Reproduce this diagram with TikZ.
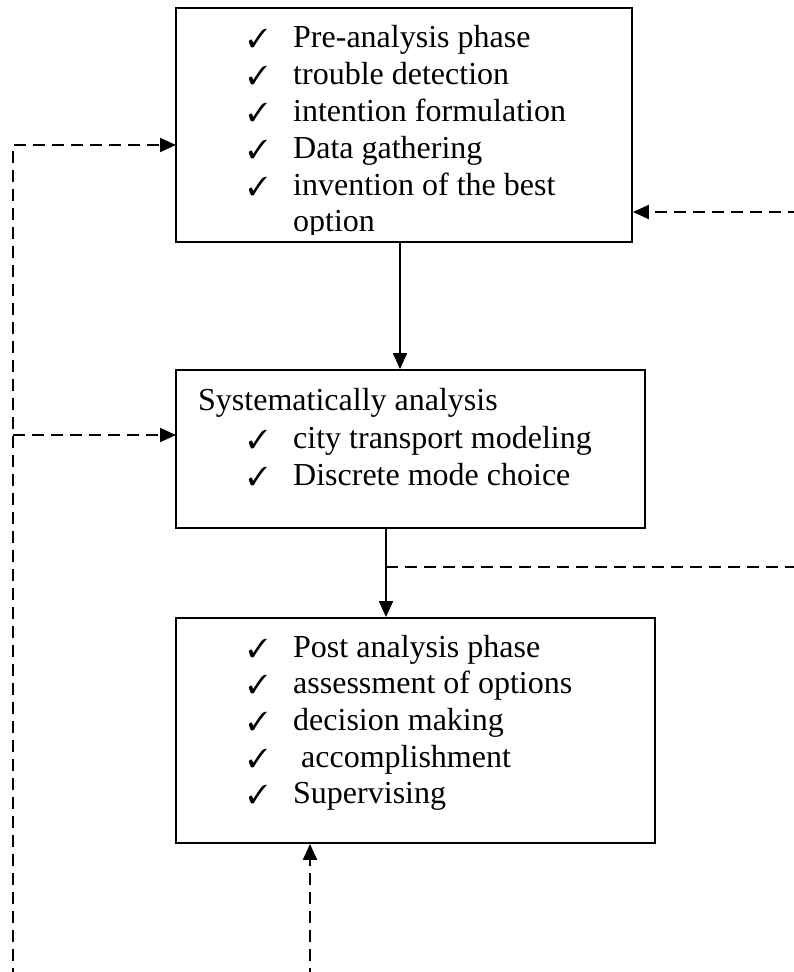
\documentclass[tikz,border=0pt]{standalone}
\usepackage{fontspec}
\setmainfont{Liberation Serif}
\usepackage{pifont}
\usetikzlibrary{arrows.meta}
\tikzset{
  box/.style={draw, line width=1.8pt, rectangle, inner sep=0pt},
  txt/.style={anchor=base west, inner sep=0pt, font=\fontsize{32}{37}\selectfont},
  chk/.style={anchor=base west, inner sep=0pt, font=\fontsize{26}{30}\selectfont},
  solidarrow/.style={line width=1.9pt, -{Triangle[length=16pt,width=14pt]}},
  dasharrow/.style={line width=2pt, dash pattern=on 12pt off 7pt, -{Triangle[length=16pt,width=14pt]}},
  dashline/.style={line width=2pt, dash pattern=on 12pt off 7pt}
}
\begin{document}
\begin{tikzpicture}[x=1pt,y=-1pt]
\useasboundingbox (0,0) rectangle (794,972);
% boxes
\node[box, minimum width=456pt, minimum height=234pt] (b1) at (404,125) {};
\node[box, minimum width=469pt, minimum height=158pt] (b2) at (410.5,449) {};
\node[box, minimum width=479pt, minimum height=225pt] (b3) at (415.5,730.5) {};
% box 1 text
\begin{scope}
\clip (176,8) rectangle (632,234);
\node[chk] (c11) at (248,47) {\ding{51}};
\node[txt] (t11) at (293,47) {Pre-analysis phase};
\node[chk] (c12) at (248,84) {\ding{51}};
\node[txt] (t12) at (293,84) {trouble detection};
\node[chk] (c13) at (248,121) {\ding{51}};
\node[txt] (t13) at (293,121) {intention formulation};
\node[chk] (c14) at (248,158) {\ding{51}};
\node[txt] (t14) at (293,158) {Data gathering};
\node[chk] (c15) at (248,195) {\ding{51}};
\node[txt] (t15) at (293,195) {invention of the best};
\node[txt] (t16) at (293,231) {option};
\end{scope}
% box 2 text
\node[txt] (t20) at (198,410) {Systematically analysis};
\node[chk] (c21) at (248,448) {\ding{51}};
\node[txt] (t21) at (293,448) {city transport modeling};
\node[chk] (c22) at (248,485) {\ding{51}};
\node[txt] (t22) at (293,485) {Discrete mode choice};
% box 3 text
\node[chk] (c31) at (248,657) {\ding{51}};
\node[txt] (t31) at (293,657) {Post analysis phase};
\node[chk] (c32) at (248,693) {\ding{51}};
\node[txt] (t32) at (293,693) {assessment of options};
\node[chk] (c33) at (248,730) {\ding{51}};
\node[txt] (t33) at (293,730) {decision making};
\node[chk] (c34) at (248,767) {\ding{51}};
\node[txt] (t34) at (293,767) {\ accomplishment};
\node[chk] (c35) at (248,803) {\ding{51}};
\node[txt] (t35) at (293,803) {Supervising};
% coordinates
\coordinate (a1) at (400,0);
\coordinate (a2) at (386,0);
\coordinate (l0) at (13,980);
\coordinate (in1) at (176,145);
\coordinate (in2) at (176,435);
\coordinate (r1) at (800,212);
\coordinate (r2) at (800,567);
\coordinate (d0) at (310,980);
% connectors
\draw[solidarrow] (b1.south -| a1) -- (b2.north -| a1);
\draw[solidarrow] (b2.south -| a2) -- (b3.north -| a2);
\draw[dashline] (a2 |- r2) -- (r2);
\draw[dasharrow] (r1) -- (b1.east |- r1);
\draw[dasharrow] (l0) |- (in1);
\draw[dasharrow] (l0 |- in2) -- (in2);
\draw[dasharrow] (d0) -- (b3.south -| d0);
\end{tikzpicture}
\end{document}
